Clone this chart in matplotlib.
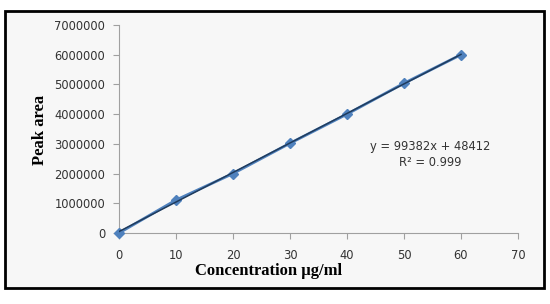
import matplotlib
matplotlib.use("Agg")
import matplotlib.pyplot as plt
from matplotlib.patches import Rectangle
import numpy as np

conc = [0, 10, 20, 30, 40, 50, 60]
area = [0, 1110000, 2000000, 3020000, 4000000, 5040000, 6000000]
slope = 99382
intercept = 48412
eq_text = "y = 99382x + 48412\nR² = 0.999"
x_ticks = [0, 10, 20, 30, 40, 50, 60, 70]
y_ticks = [0, 1000000, 2000000, 3000000, 4000000, 5000000, 6000000, 7000000]

fig = plt.figure(figsize=(5.5, 3.04), dpi=100)
fig.patch.set_facecolor("white")
W, H = 550, 304
# inner frame background and border
fig.patches.append(Rectangle((5/W, 1-288/H), 539/W, 277/H, transform=fig.transFigure,
                             facecolor="#f7f7f7", edgecolor="black", linewidth=2, zorder=-10))

x0, x1, ytop, ybot = 119, 518, 25, 233
ax = fig.add_axes([x0/W, 1-ybot/H, (x1-x0)/W, (ybot-ytop)/H])
ax.set_zorder(1)
ax.patch.set_alpha(0)

ax.plot(conc, area, color="#4f81bd", linewidth=2, marker="D", markersize=5,
        markerfacecolor="#4f81bd", markeredgecolor="#4f81bd", zorder=3, clip_on=False)
xs = np.array([conc[0], conc[-1]])
ax.plot(xs, slope*xs + intercept, color="#1f3b5c", linewidth=1.1, zorder=4)

ax.set_xlim(0, 70)
ax.set_ylim(0, 7000000)
ax.set_xticks(x_ticks)
ax.set_yticks(y_ticks)
ax.set_xticklabels([str(v) for v in x_ticks])
ax.set_yticklabels([str(v) for v in y_ticks])
for s in ["top", "right"]:
    ax.spines[s].set_visible(False)
for s in ["left", "bottom"]:
    ax.spines[s].set_color("#a0a0a0")
    ax.spines[s].set_linewidth(0.8)
ax.tick_params(axis="both", direction="out", length=4, color="#a0a0a0",
               labelsize=8.3, labelcolor="#333333", width=0.8)
ax.tick_params(axis="x", pad=7.5)
ax.tick_params(axis="y", pad=6)

ax.set_xlabel("Concentration µg/ml", fontfamily="Liberation Serif", fontweight="bold",
              fontsize=12, va="center")
ax.set_ylabel("Peak area", fontfamily="Liberation Serif", fontweight="bold",
              fontsize=12, va="center")
ax.xaxis.set_label_coords((269-x0)/(x1-x0), (ybot-271)/(ybot-ytop))
ax.yaxis.set_label_coords((40-x0)/(x1-x0), (ybot-130)/(ybot-ytop))

ax.text(54.6, 2640000, eq_text, ha="center", va="center", fontsize=8.3,
        color="#333333", linespacing=1.35)

fig.savefig("out.png", dpi=100)
